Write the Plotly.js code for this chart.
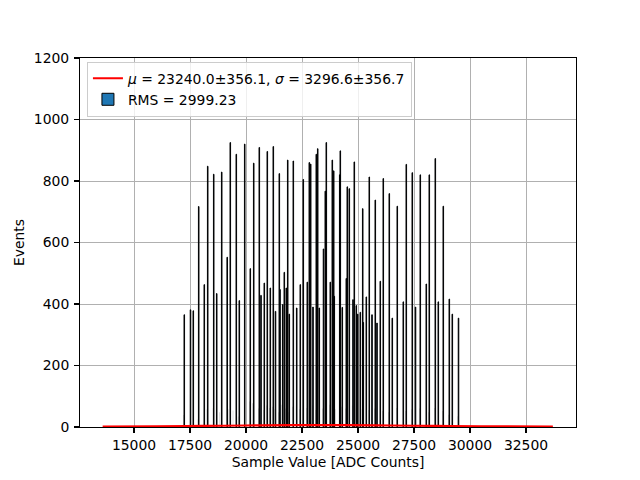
<!DOCTYPE html>
<html>
<head>
<meta charset="utf-8">
<script src="https://cdn.plot.ly/plotly-3.0.1.min.js"></script>
<style>html,body{margin:0;padding:0;background:#fff;}#chart{width:640px;height:480px;}</style>
</head>
<body>
<div id="chart"></div>
<script>
// Tall / main histogram bins (ADC value, events)
const binValues = [17245,17522,17647,17888,18138,18290,18558,18692,18915,19161,
  19299,19567,19701,19942,20192,20344,20594,20670,20817,20951,
  21085,21219,21317,21487,21518,21638,21710,21799,21862,21933,
  22112,22263,22424,22558,22737,22826,22888,22991,23138,23201,
  23272,23460,23540,23585,23763,23853,23915,23942,24183,24210,
  24299,24478,24522,24612,24777,24835,24924,24987,25103,25210,
  25237,25371,25504,25625,25772,25848,25995,26129,26397,26531,
  26754,27022,27156,27424,27567,27781,28049,28183,28451,28585,
  28808,29076,29210,29487];
const binCounts = [365,381,378,717,463,848,822,434,829,552,
  925,887,411,920,515,858,909,428,468,896,
  452,912,376,824,447,398,503,452,868,367,
  865,387,463,805,471,860,855,390,887,905,
  387,579,767,925,471,868,833,425,820,898,
  389,483,781,775,414,862,395,367,373,710,
  340,423,813,365,738,338,474,808,759,354,
  718,407,854,827,390,820,465,820,873,407,
  718,416,367,354];
// Low-count bins next to the spikes
const lowValues = [17215,17860,18260,18530,18830,19200,19420,19650,19930,20150,
  20300,20560,20780,20910,21050,21190,21290,21450,21600,21760,
  21900,22080,22240,22400,22700,22960,23100,23420,23720,23980,
  24260,24450,24740,24960,25180,25470,25740,26090,26360,26720,
  27120,27390,27750,28150,28420,28780,29040,29460];
const lowCounts = [39,25,58,61,48,58,54,34,94,83,
  77,60,55,70,62,66,58,48,72,60,
  48,66,70,58,62,70,55,60,72,58,
  66,60,70,62,58,55,60,52,48,62,
  52,58,60,48,62,52,40,35];
// Fitted Gaussian curve (nearly flat at zero)
const fitX = [13600,16000,18000,20000,22000,23240,24500,26500,28500,30500,33700];
const fitY = [1.5,2.2,3.4,4.8,5.8,6.0,5.8,4.8,3.4,2.2,1.5];
const xTicks = [15000,17500,20000,22500,25000,27500,30000,32500];
const yTicks = [0,200,400,600,800,1000,1200];

const font = {family: 'DejaVu Sans, sans-serif', size: 13.9, color: '#000'};

const traces = [
  {
    type: 'bar', x: lowValues, y: lowCounts, width: 22,
    marker: {color: '#b8b8b8', line: {width: 0}},
    showlegend: false, hoverinfo: 'skip'
  },
  {
    type: 'bar', x: binValues, y: binCounts, width: 24,
    name: 'RMS = 2999.23', legendrank: 2,
    marker: {color: '#1f77b4', line: {color: '#000', width: 1}}
  },
  {
    type: 'scatter', mode: 'lines', x: fitX, y: fitY,
    line: {color: '#ff0000', width: 2.2, shape: 'spline'},
    name: '<i>μ</i> = 23240.0±356.1, <i>σ</i> = 3296.6±356.7', legendrank: 1
  }
];

const axisCommon = {
  showline: true, linecolor: '#000', linewidth: 1.1, mirror: true,
  ticks: 'outside', ticklen: 4.9, tickwidth: 1.1, tickcolor: '#000',
  showgrid: true, gridcolor: '#b0b0b0', gridwidth: 1,
  zeroline: false, tickfont: font, tickformat: 'd'
};

const layout = {
  width: 640, height: 480,
  paper_bgcolor: '#fff', plot_bgcolor: '#fff',
  margin: {l: 80, r: 64, t: 58, b: 53},
  font: font,
  barmode: 'overlay', bargap: 0.2,
  xaxis: Object.assign({}, axisCommon, {
    range: [12589, 34732], tickvals: xTicks, ticktext: xTicks.map(String),
    title: {text: 'Sample Value [ADC Counts]', font: font, standoff: 5}
  }),
  yaxis: Object.assign({}, axisCommon, {
    range: [0, 1200], tickvals: yTicks, ticktext: yTicks.map(String),
    ticklabelstandoff: 2,
    title: {text: 'Events', font: font, standoff: 6}
  }),
  legend: {
    x: 0.014, y: 0.99, xanchor: 'left', yanchor: 'top',
    bgcolor: 'rgba(255,255,255,0.8)', bordercolor: '#cccccc', borderwidth: 1,
    font: font, traceorder: 'normal', tracegroupgap: 0
  },
  showlegend: true
};

Plotly.newPlot('chart', traces, layout, {staticPlot: true, displayModeBar: false});
</script>
</body>
</html>
